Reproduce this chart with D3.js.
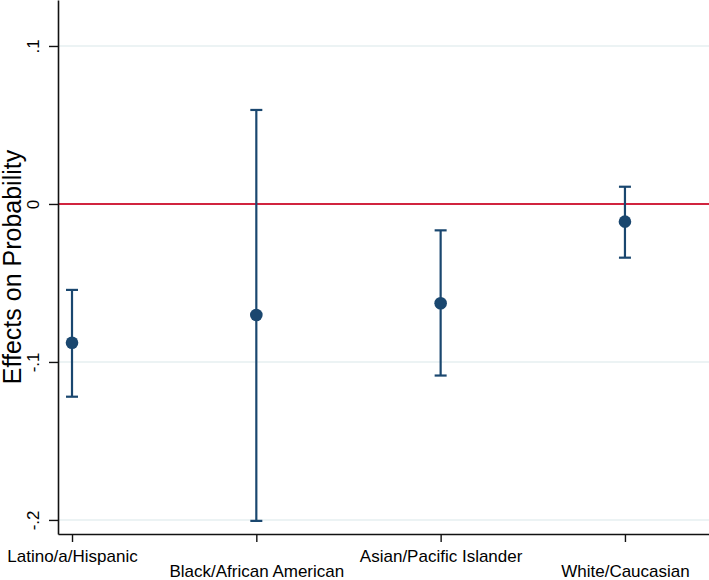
<!DOCTYPE html>
<html>
<head>
<meta charset="utf-8">
<script src="https://cdn.jsdelivr.net/npm/d3@7"></script>
<style>
  html, body { margin: 0; padding: 0; background: #fff; }
  svg { display: block; }
  text { font-family: "Liberation Sans", Arial, Helvetica, sans-serif; fill: #000; }
</style>
</head>
<body>
<svg id="chart" width="709" height="580"></svg>
<script>
const categories = ["Latino/a/Hispanic", "Black/African American", "Asian/Pacific Islander", "White/Caucasian"];
const estimates  = [-0.0878, -0.0703, -0.0628, -0.0112];
const ciLower    = [-0.1220, -0.2006, -0.1086, -0.0340];
const ciUpper    = [-0.0544,  0.0595, -0.0167,  0.0109];
const yTicks     = [0.1, 0, -0.1, -0.2];
const yTickLabels = [".1", "0", "-.1", "-.2"];

(function () {
const mLeft = 58, mRight = 709, mTop = 0, mBottom = 534;

const svg = d3.select("#chart");

const x = d3.scaleLinear().domain([0.924, 4.456]).range([mLeft, mRight]);
const y = d3.scaleLinear().domain([-0.2089, 0.1291]).range([mBottom, mTop]);

const navy = "#1a476f";

// gridlines
svg.append("g").selectAll("line")
  .data(yTicks.filter(d => d !== 0))
  .join("line")
  .attr("x1", mLeft).attr("x2", mRight)
  .attr("y1", d => y(d)).attr("y2", d => y(d))
  .attr("stroke", "#e6eff1").attr("stroke-width", 1.5);

// zero reference line
svg.append("line")
  .attr("x1", mLeft).attr("x2", mRight)
  .attr("y1", y(0)).attr("y2", y(0))
  .attr("stroke", "#d1243f").attr("stroke-width", 2);

// y axis
const yAxis = d3.axisLeft(y).tickValues(yTicks)
  .tickFormat((d, i) => yTickLabels[i]).tickSize(9).tickSizeOuter(0).tickPadding(0);
const gy = svg.append("g").attr("transform", `translate(${mLeft},0)`).call(yAxis);
gy.select(".domain").attr("stroke", "#111").attr("stroke-width", 1.6);
gy.selectAll(".tick line").attr("stroke", "#111").attr("stroke-width", 1.4);
gy.selectAll(".tick text")
  .attr("font-size", 17)
  .attr("x", 0).attr("y", 0).attr("dy", 0)
  .attr("text-anchor", "middle")
  .attr("transform", "translate(-19,0) rotate(-90)")
  .style("font-family", "'Liberation Sans', Arial, sans-serif");

// x axis
const xAxis = d3.axisBottom(x).tickValues([1, 2, 3, 4])
  .tickFormat((d) => categories[d - 1]).tickSize(8).tickSizeOuter(0).tickPadding(0);
const gx = svg.append("g").attr("transform", `translate(0,${mBottom})`).call(xAxis);
gx.select(".domain").attr("stroke", "#111").attr("stroke-width", 1.6);
gx.selectAll(".tick line").attr("stroke", "#111").attr("stroke-width", 1.4);
gx.selectAll(".tick text")
  .attr("font-size", 17)
  .attr("dy", 0)
  .attr("y", (d, i) => i % 2 === 0 ? 28 : 43)
  .style("font-family", "'Liberation Sans', Arial, sans-serif");

// y axis title
svg.append("text")
  .attr("transform", `translate(21,${(mTop + mBottom) / 2}) rotate(-90)`)
  .attr("text-anchor", "middle")
  .attr("font-size", 25)
  .text("Effects on Probability");

// error bars
const idx = d3.range(categories.length);
const g = svg.append("g");
g.selectAll("line.ci").data(idx).join("line").attr("class", "ci")
  .attr("x1", i => x(i + 1)).attr("x2", i => x(i + 1))
  .attr("y1", i => y(ciLower[i])).attr("y2", i => y(ciUpper[i]))
  .attr("stroke", navy).attr("stroke-width", 2.2);
const capW = 6;
g.selectAll("line.capT").data(idx).join("line").attr("class", "capT")
  .attr("x1", i => x(i + 1) - capW).attr("x2", i => x(i + 1) + capW)
  .attr("y1", i => y(ciUpper[i])).attr("y2", i => y(ciUpper[i]))
  .attr("stroke", navy).attr("stroke-width", 2.2);
g.selectAll("line.capB").data(idx).join("line").attr("class", "capB")
  .attr("x1", i => x(i + 1) - capW).attr("x2", i => x(i + 1) + capW)
  .attr("y1", i => y(ciLower[i])).attr("y2", i => y(ciLower[i]))
  .attr("stroke", navy).attr("stroke-width", 2.2);
g.selectAll("circle").data(idx).join("circle")
  .attr("cx", i => x(i + 1)).attr("cy", i => y(estimates[i]))
  .attr("r", 6.3).attr("fill", navy);
})();
</script>
</body>
</html>
